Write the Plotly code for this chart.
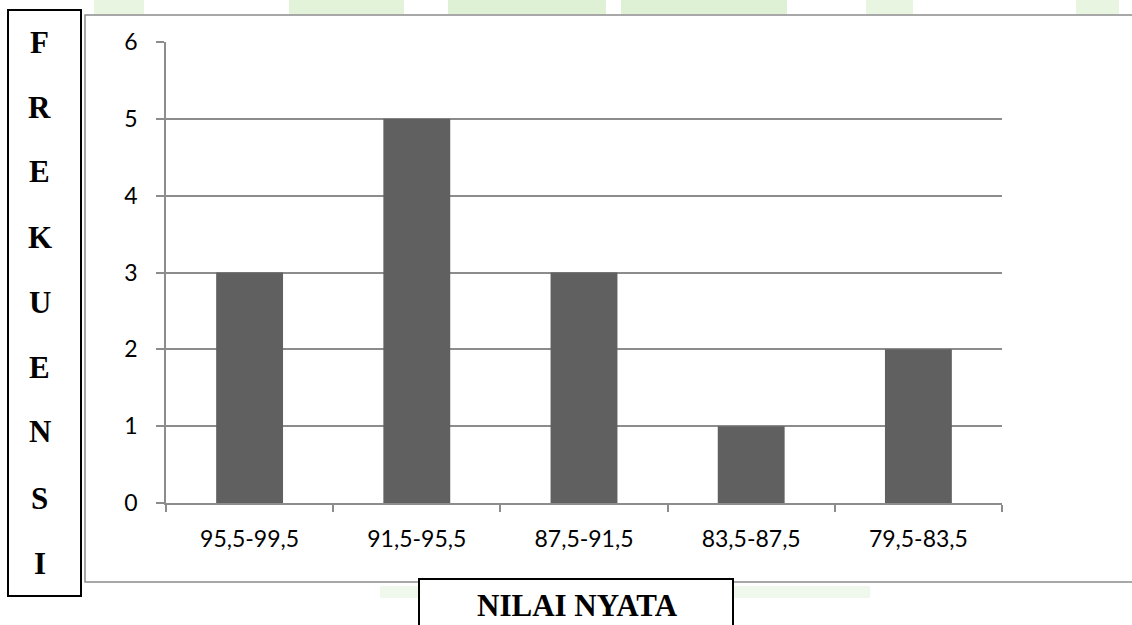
import plotly.graph_objects as go

# Frequency distribution of observed scores (class intervals, descending)
categories = ["95,5-99,5", "91,5-95,5", "87,5-91,5", "83,5-87,5", "79,5-83,5"]
frequencies = [3, 5, 3, 1, 2]
y_ticks = [0, 1, 2, 3, 4, 5, 6]
y_title_letters = list("FREKUENSI")
x_title = "NILAI NYATA"

W, H = 1132, 625
PL, PR, PT, PB = 166, 1002, 42, 503  # plot area in pixels


def px(x):
    return (x - PL) / (PR - PL)


def py(y):
    return (PB - y) / (PB - PT)


fig = go.Figure(
    go.Bar(
        x=categories,
        y=frequencies,
        width=0.4,
        marker=dict(color="#606060", line=dict(width=0)),
        hoverinfo="x+y",
    )
)

shapes = []
# faint green background banding at the top edge
for x0, x1, a in [(94, 144, 0.35), (289, 404, 0.45), (448, 606, 0.5), (621, 787, 0.5),
                  (866, 913, 0.35), (1076, 1119, 0.35)]:
    shapes.append(dict(type="rect", xref="paper", yref="paper",
                       x0=px(x0), x1=px(x1), y0=py(14), y1=py(0),
                       fillcolor=f"rgba(190,228,170,{a})", line=dict(width=0), layer="below"))
# faint green swoosh near the bottom
for x0, x1 in [(380, 419), (733, 870)]:
    shapes.append(dict(type="rect", xref="paper", yref="paper",
                       x0=px(x0), x1=px(x1), y0=py(598), y1=py(586),
                       fillcolor="rgba(205,228,195,0.3)", line=dict(width=0), layer="below"))

# outer chart frame
shapes.append(dict(type="rect", xref="paper", yref="paper",
                   x0=px(85), x1=px(1140), y0=py(582), y1=py(15),
                   line=dict(color="#8c8c8c", width=1.5), fillcolor="rgba(0,0,0,0)", layer="below"))
# white fill inside frame
shapes.insert(0, dict(type="rect", xref="paper", yref="paper",
                      x0=px(86), x1=px(1140), y0=py(581), y1=py(16),
                      fillcolor="white", line=dict(width=0), layer="below"))
# boxes around axis titles
shapes.append(dict(type="rect", xref="paper", yref="paper",
                   x0=px(8), x1=px(81), y0=py(596), y1=py(10),
                   line=dict(color="black", width=2), fillcolor="white"))
shapes.append(dict(type="rect", xref="paper", yref="paper",
                   x0=px(419), x1=px(733), y0=py(640), y1=py(579),
                   line=dict(color="black", width=2), fillcolor="white"))

annotations = []
letter_y = [42, 107, 171, 237, 302, 367, 431, 498, 563]
for ch, yy in zip(y_title_letters, letter_y):
    annotations.append(dict(text=ch, xref="paper", yref="paper", x=px(40), y=py(yy),
                            xanchor="center", yanchor="middle", showarrow=False,
                            font=dict(family="Liberation Serif", size=31, color="black", weight="bold")))
annotations.append(dict(text=x_title, xref="paper", yref="paper", x=px(577), y=py(605),
                        xanchor="center", yanchor="middle", showarrow=False,
                        font=dict(family="Liberation Serif", size=31, color="black", weight="bold")))

fig.update_layout(
    width=W, height=H,
    margin=dict(l=PL, r=W - PR, t=PT, b=H - PB, pad=0),
    paper_bgcolor="white",
    plot_bgcolor="rgba(0,0,0,0)",
    showlegend=False,
    bargap=0.6,
    shapes=shapes,
    annotations=annotations,
    font=dict(family="Lato", color="black"),
)
fig.update_xaxes(
    type="category",
    showline=True, linecolor="#8c8c8c", linewidth=1.5,
    ticks="outside", ticklen=7, tickcolor="#8c8c8c", tickwidth=1.5,
    tickson="boundaries",
    showgrid=False, zeroline=False,
    tickfont=dict(family="Lato", size=23, color="black"),
    ticklabelstandoff=15,
)
fig.update_yaxes(
    range=[0, 6], tickvals=y_ticks,
    showline=True, linecolor="#8c8c8c", linewidth=1.5,
    ticks="outside", ticklen=8, tickcolor="#8c8c8c", tickwidth=1.5,
    showgrid=True, gridcolor="#8c8c8c", gridwidth=1.5,
    zeroline=False,
    tickfont=dict(family="Lato", size=23, color="black"),
    ticklabelstandoff=14,
)

fig.write_html("out.html")
